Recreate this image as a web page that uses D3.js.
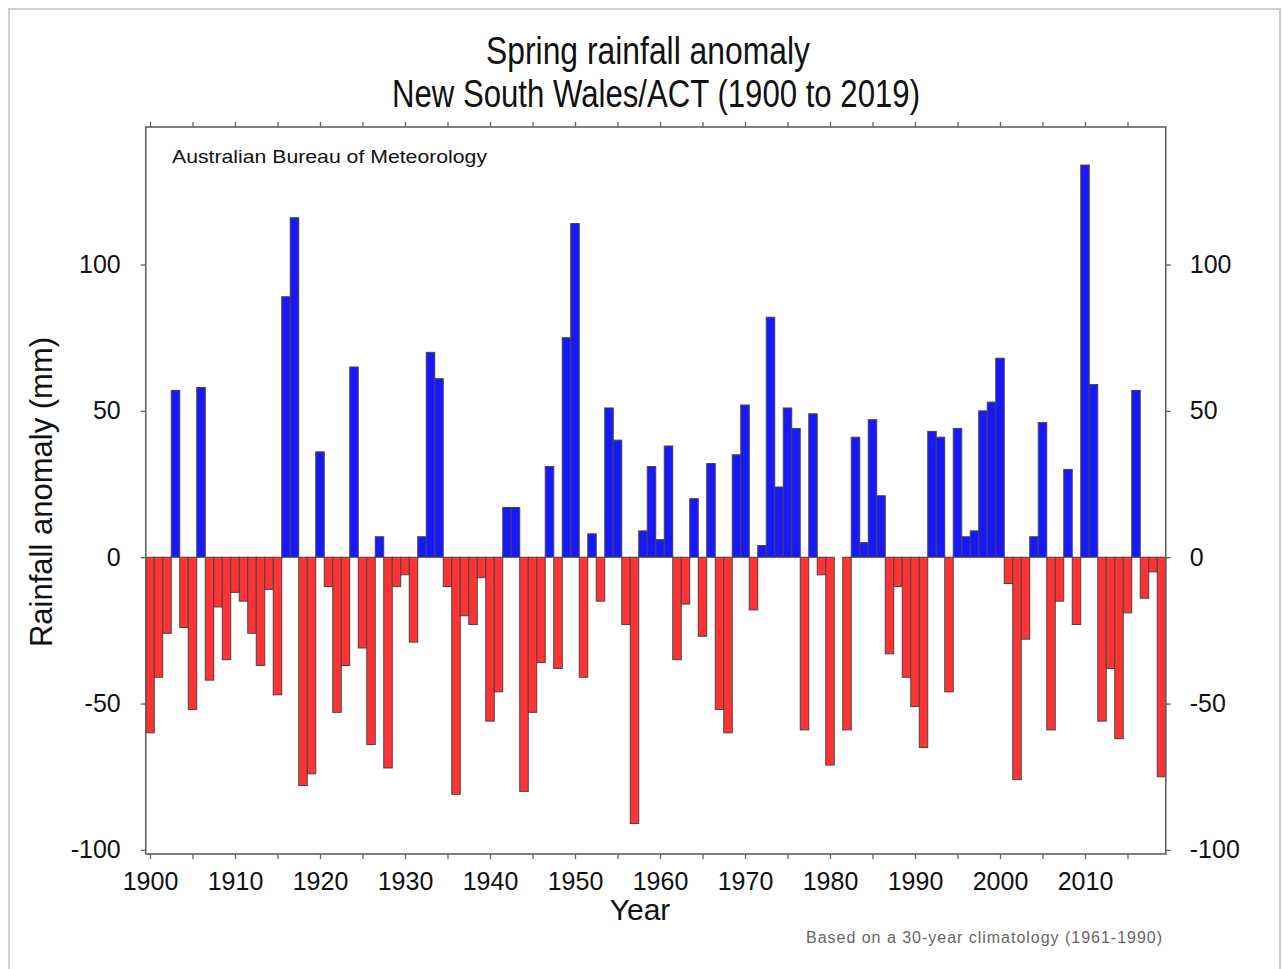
<!DOCTYPE html>
<html>
<head>
<meta charset="utf-8">
<script src="https://cdn.jsdelivr.net/npm/d3@7"></script>
<style>
  html, body { margin: 0; padding: 0; background: #fff; }
  svg { display: block; }
  text { font-family: "Liberation Sans", Arial, sans-serif; }
  .narrow { font-family: "Liberation Sans Narrow", "Arial Narrow", "Liberation Sans", sans-serif; }
</style>
</head>
<body>
<svg id="chart" width="1283" height="969"></svg>
<script>
// ---- data ----
const titleLines = ["Spring rainfall anomaly", "New South Wales/ACT (1900 to 2019)"];
const years = d3.range(1900, 2020);
const anomalies = [
  -60, -41, -26, 57, -24, -52, 58, -42, -17, -35,
  -12, -15, -26, -37, -11, -47, 89, 116, -78, -74,
  36, -10, -53, -37, 65, -31, -64, 7, -72, -10,
  -6, -29, 7, 70, 61, -10, -81, -20, -23, -7,
  -56, -46, 17, 17, -80, -53, -36, 31, -38, 75,
  114, -41, 8, -15, 51, 40, -23, -91, 9, 31,
  6, 38, -35, -16, 20, -27, 32, -52, -60, 35,
  52, -18, 4, 82, 24, 51, 44, -59, 49, -6,
  -71, 0, -59, 41, 5, 47, 21, -33, -10, -41,
  -51, -65, 43, 41, -46, 44, 7, 9, 50, 53,
  68, -9, -76, -28, 7, 46, -59, -15, 30, -23,
  134, 59, -56, -38, -62, -19, 57, -14, -5, -75
];
const xTickValues = d3.range(1900, 2020, 5);
const xLabelValues = d3.range(1900, 2020, 10);
const yTickValues = [-100, -50, 0, 50, 100];

// ---- layout ----
const svg = d3.select("#chart");
const L = 145.75, R = 1165.75, T = 127, B = 854;

// outer frame
svg.append("path")
  .attr("d", "M9,975 V9 H1280 V975")
  .attr("fill", "none").attr("stroke", "#cfcfcf").attr("stroke-width", 2);

const x = d3.scaleBand().domain(years).range([L, R]).padding(0);
const xLin = d3.scaleLinear().domain([1899.5, 2019.5]).range([L, R]);
const y = d3.scaleLinear().domain([-101.4, 147]).range([B, T]);

// bars
svg.append("g").selectAll("rect")
  .data(years.map((yr, i) => ({ yr, v: anomalies[i] })))
  .join("rect")
  .attr("x", d => x(d.yr))
  .attr("width", x.bandwidth())
  .attr("y", d => y(Math.max(0, d.v)))
  .attr("height", d => Math.abs(y(d.v) - y(0)))
  .attr("fill", d => d.v >= 0 ? "#1818ff" : "#ff3333")
  .attr("stroke", "#454545")
  .attr("stroke-width", 1);

// plot frame
svg.append("rect")
  .attr("x", L).attr("y", T).attr("width", R - L).attr("height", B - T)
  .attr("fill", "none").attr("stroke", "#606060").attr("stroke-width", 1.6);

// axes
function styleAxis(g) {
  g.select(".domain").remove();
  g.selectAll(".tick line").attr("stroke", "#606060").attr("stroke-width", 1.3);
}
const xb = svg.append("g").attr("transform", `translate(0,${B})`)
  .call(d3.axisBottom(xLin).tickValues(xTickValues).tickSize(5).tickPadding(13)
    .tickFormat(d => xLabelValues.includes(d) ? String(d) : ""));
styleAxis(xb);
xb.selectAll(".tick text").attr("font-size", 25).attr("fill", "#111");

const xt = svg.append("g").attr("transform", `translate(0,${T})`)
  .call(d3.axisTop(xLin).tickValues(xTickValues).tickSize(5).tickFormat(""));
styleAxis(xt);

const yl = svg.append("g").attr("transform", `translate(${L},0)`)
  .call(d3.axisLeft(y).tickValues(yTickValues).tickSize(5).tickPadding(20)
    .tickFormat(d => String(d)));
styleAxis(yl);
yl.selectAll(".tick text").attr("font-size", 25).attr("fill", "#111");

const yr = svg.append("g").attr("transform", `translate(${R},0)`)
  .call(d3.axisRight(y).tickValues(yTickValues).tickSize(5).tickPadding(19)
    .tickFormat(d => String(d)));
styleAxis(yr);
yr.selectAll(".tick text").attr("font-size", 25).attr("fill", "#111");

// titles
svg.append("text").attr("class", "narrow")
  .attr("x", 486).attr("y", 64).attr("font-size", 38).attr("fill", "#111")
  .attr("textLength", 324).attr("lengthAdjust", "spacingAndGlyphs")
  .text(titleLines[0]);
svg.append("text").attr("class", "narrow")
  .attr("x", 392).attr("y", 107).attr("font-size", 38).attr("fill", "#111")
  .attr("textLength", 528).attr("lengthAdjust", "spacingAndGlyphs")
  .text(titleLines[1]);

svg.append("text").attr("class", "narrow")
  .attr("x", 172).attr("y", 163).attr("font-size", 19).attr("fill", "#111")
  .attr("textLength", 315).attr("lengthAdjust", "spacingAndGlyphs")
  .text("Australian Bureau of Meteorology");

svg.append("text")
  .attr("x", 640).attr("y", 920).attr("text-anchor", "middle")
  .attr("font-size", 30).attr("fill", "#111")
  .text("Year");

svg.append("text")
  .attr("transform", "translate(52,492) rotate(-90)")
  .attr("text-anchor", "middle").attr("font-size", 31).attr("fill", "#111")
  .text("Rainfall anomaly (mm)");

svg.append("text")
  .attr("x", 806).attr("y", 943).attr("font-size", 16).attr("fill", "#666")
  .attr("textLength", 356).attr("lengthAdjust", "spacing")
  .text("Based on a 30-year climatology (1961-1990)");
</script>
</body>
</html>
